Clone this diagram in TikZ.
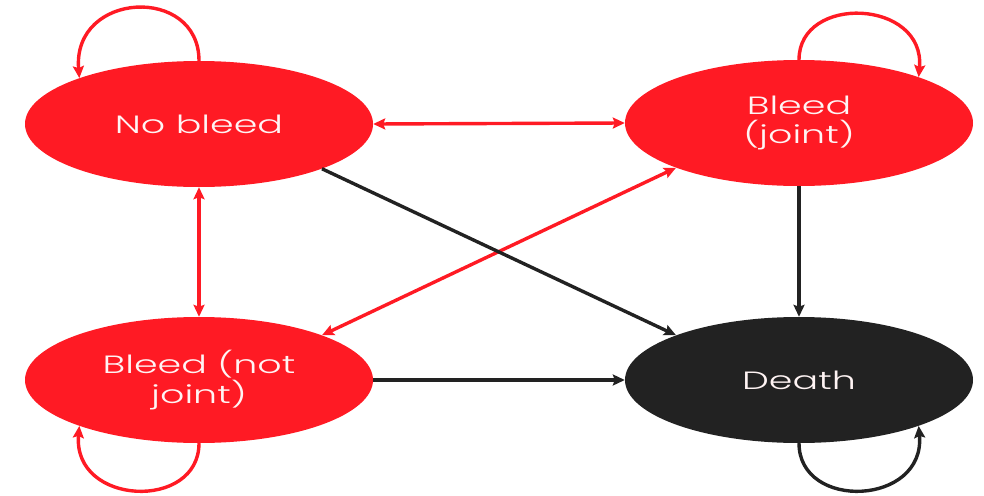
\documentclass[tikz,border=0pt]{standalone}
\usepackage{fontspec}
\setmainfont{Poppins Light}[FakeStretch=1.52]
\usetikzlibrary{arrows.meta,shapes.geometric}
\definecolor{bleedred}{HTML}{FF1A24}
\definecolor{deathgray}{HTML}{222222}
\definecolor{textwhite}{HTML}{FFF4F4}
\begin{document}
\begin{tikzpicture}[x=1pt,y=-1pt,
  state/.style={ellipse,minimum width=348pt,minimum height=126pt,inner sep=0pt,
    text=textwhite,font=\fontsize{25}{29.5}\selectfont,align=center},
  redstate/.style={state,fill=bleedred},
  deadstate/.style={state,fill=deathgray},
  conn/.style={line width=3.4pt,-{Stealth[length=12pt,width=11pt,inset=2pt]}},
  dconn/.style={line width=3.4pt,{Stealth[length=12pt,width=11pt,inset=2pt]}-{Stealth[length=12pt,width=11pt,inset=2pt]}},
  redline/.style={draw=bleedred},
  darkline/.style={draw=deathgray}]
\useasboundingbox (0,0) rectangle (984,495);
\node[redstate] (nb) at (199,124) {No bleed};
\node[redstate] (bj) at (799,123) {Bleed\\(joint)};
\node[redstate] (bnj) at (199,380) {Bleed (not\\joint)};
\node[deadstate] (d) at (799,380) {Death};
% red double arrows
\draw[dconn,redline] (nb.east) -- (bj.west);
\draw[dconn,redline] (nb.south) -- (bnj.north);
\draw[dconn,redline] (bj.200) -- (bnj.20);
% black arrows to death
\draw[conn,darkline] (nb.-20) -- (d.160);
\draw[conn,darkline] (bj.south) -- (d.north);
\draw[conn,darkline] (bnj.east) -- (d.west);
% self loops
\draw[conn,redline] (nb.north) .. controls +(0,-76) and +(-7,-87) .. (nb.159);
\draw[conn,redline] (bj.north) .. controls +(0,-66) and +(7,-78) .. (bj.21);
\draw[conn,redline] (bnj.south) .. controls +(0,68) and +(-7,80) .. (bnj.201);
\draw[conn,darkline] (d.south) .. controls +(0,68) and +(7,80) .. (d.-21);
\end{tikzpicture}
\end{document}
